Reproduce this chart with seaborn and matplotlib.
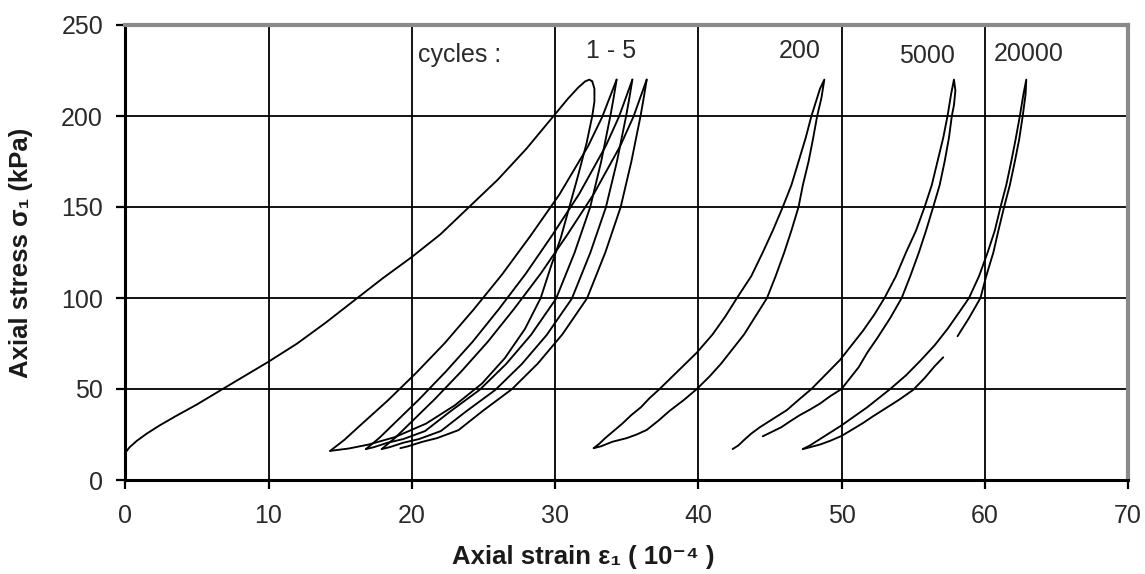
import matplotlib
matplotlib.use("Agg")
import matplotlib.pyplot as plt
import seaborn as sns
import pandas as pd

# ---------------- data (strain in 1e-4, stress in kPa) ----------------
init_x = [0, 0.3, 0.8, 1.5, 2.4, 3.5, 5.0, 6.8, 8.4, 10, 12, 14, 16.2, 18, 20, 22, 24, 26, 28, 29.9, 30.9, 31.6, 32.1, 32.4, 32.6]
init_y = [15, 18, 21.5, 25.5, 30, 35, 41.5, 50, 57.5, 65, 75, 86.5, 100, 111, 122.5, 135, 150, 165, 182, 200, 209.5, 215.5, 219, 220, 219]

unl1_x = [32.6, 32.75, 32.75, 32.6, 32.2, 31.6, 31.0, 30.4, 29.7, 29.0, 27.9, 26.5, 24.9, 23.0, 21.0, 18.8, 17.0, 15.6, 14.3]
unl1_y = [219, 215, 208, 200, 185, 167, 150, 133, 117, 100, 83, 67, 53, 41, 31, 23.5, 19.5, 17.3, 16]

rel1_x = [14.3, 15.3, 16.3, 18.3, 20.3, 22.3, 24.3, 26.3, 28.3, 30.3, 32.3, 33.3, 34.3]
rel1_y = [16, 22.1, 29.3, 43.5, 58.8, 75.2, 93.5, 112.9, 134.3, 156.8, 183.3, 199.6, 220]

unl2_x = [34.3, 34.09, 33.86, 33.22, 32.45, 31.36, 30.07, 28.32, 26.58, 24.73, 22.66, 20.93, 19.41, 18.32, 17.34, 16.8]
unl2_y = [220, 209.9, 199.9, 174.9, 149.8, 124.8, 99.6, 79.7, 63.7, 49.5, 37.5, 26.9, 22.5, 20.5, 18.0, 17]

rel2_x = [16.8, 17.73, 18.66, 20.52, 22.38, 24.24, 26.1, 27.96, 29.82, 31.68, 33.54, 34.47, 35.4]
rel2_y = [17, 23.1, 30.2, 44.4, 59.6, 75.9, 94.1, 113.4, 134.7, 157.1, 183.5, 199.7, 220]

unl3_x = [35.4, 35.19, 34.96, 34.32, 33.55, 32.46, 31.17, 29.42, 27.68, 25.83, 23.76, 22.03, 20.51, 19.42, 18.44, 17.9]
unl3_y = [220, 209.9, 199.9, 174.9, 149.8, 124.8, 99.6, 79.7, 63.7, 49.5, 37.5, 26.9, 22.5, 20.5, 18.0, 17]

rel3_x = [17.9, 18.83, 19.75, 21.6, 23.45, 25.3, 27.15, 29.0, 30.85, 32.7, 34.55, 35.48, 36.4]
rel3_y = [17, 23.1, 30.2, 44.4, 59.6, 75.9, 94.1, 113.4, 134.7, 157.1, 183.5, 199.7, 220]

unl4_x = [36.4, 36.19, 35.97, 35.33, 34.58, 33.51, 32.24, 30.52, 28.81, 26.99, 24.96, 23.26, 21.76, 20.7, 19.73, 19.2]
unl4_y = [220, 209.9, 200.0, 175.0, 149.9, 125.0, 99.9, 80.1, 64.1, 49.9, 38.0, 27.4, 23.0, 20.9, 18.5, 17.5]

c200_x = [32.7, 33.1, 33.5, 34.1, 34.7, 35.3, 36.0, 36.6, 37.3, 38.6, 39.9, 41.0, 41.9, 42.7, 43.7, 44.5, 45.2, 45.9,
          46.5, 47.0, 47.5, 47.9, 48.3, 48.5, 48.8,
          48.7, 48.6, 48.3, 48.0, 47.7, 47.3, 47.0, 46.5, 46.0, 45.4, 44.8, 44.0, 43.2, 42.4, 41.6, 40.8, 39.9,
          39.0, 38.0, 37.2, 36.4, 35.7, 35.0, 34.0, 33.2, 32.7]
c200_y = [17.5, 20, 23, 27, 31, 35.5, 40, 45, 50, 60, 70, 80, 90, 100, 112, 125, 137, 150,
          162, 175, 188, 200, 210, 215, 220,
          215, 210, 200, 187, 175, 162, 150, 137, 125, 112, 100, 90, 80, 72, 64, 57, 50,
          44, 38, 32.5, 27.5, 25, 23, 21, 18.5, 17.5]

c5000_x = [42.4, 42.8, 43.2, 43.7, 44.3, 45.2, 46.2, 47.0, 47.9, 48.9, 49.9, 50.7, 51.5, 52.3, 53.0, 53.8, 54.5,
           55.2, 55.8, 56.3, 56.7, 57.1, 57.4, 57.65, 57.85,
           57.95, 57.85, 57.7, 57.5, 57.2, 56.85, 56.4, 55.9, 55.4, 54.8, 54.2, 53.4, 52.5, 51.8, 51.2, 50.6, 50.0,
           49.2, 48.5, 47.8, 47.1, 46.4, 45.8, 45.1, 44.5]
c5000_y = [17, 19, 22, 25.5, 29, 33.5, 38.5, 44, 50, 58, 66, 74, 82, 91, 100, 112, 125,
           137, 150, 162, 175, 188, 200, 212, 220,
           214, 206, 200, 188, 175, 162, 150, 137, 125, 112, 100, 89, 78, 70, 62, 56, 50,
           46, 42, 38.7, 35.7, 32.2, 29, 26.3, 24]

c20000a_x = [47.3, 47.8, 48.5, 49.2, 50.0, 50.9, 51.8, 52.6, 53.4, 54.5, 55.5, 56.5, 57.4, 58.2, 58.9, 59.6, 60.2,
             60.7, 61.1, 61.5, 61.85, 62.15, 62.45, 62.7, 62.9,
             62.85, 62.65, 62.4, 62.1, 61.75, 61.35, 60.95, 60.6, 60.1, 59.7, 58.9, 58.1]
c20000a_y = [17, 19, 22.5, 26, 30, 35, 40, 45, 50, 57.5, 65.5, 74, 83, 92, 100, 112, 125,
             137, 150, 162, 175, 187, 200, 212, 220,
             212, 200, 187, 175, 162, 150, 137, 125, 112, 100, 89, 79]
c20000b_x = [57.1, 56.5, 55.8, 55.0, 54.0, 53.0, 52.2, 51.5, 50.7, 50.0, 49.2, 48.5, 47.8, 47.3]
c20000b_y = [67.4, 62.5, 56, 49.5, 44, 39, 35, 31.3, 27.5, 24.2, 21.5, 19.5, 18, 17]

branches = {
    "init": (init_x, init_y), "unl1": (unl1_x, unl1_y), "rel1": (rel1_x, rel1_y),
    "unl2": (unl2_x, unl2_y), "rel2": (rel2_x, rel2_y), "unl3": (unl3_x, unl3_y),
    "rel3": (rel3_x, rel3_y), "unl4": (unl4_x, unl4_y), "c200": (c200_x, c200_y),
    "c5000": (c5000_x, c5000_y), "c20000a": (c20000a_x, c20000a_y), "c20000b": (c20000b_x, c20000b_y),
}

x_ticks = [0, 10, 20, 30, 40, 50, 60, 70]
y_ticks = [0, 50, 100, 150, 200, 250]

labels = [("cycles :", 20.4, 233.5, "left"), ("1 - 5", 33.9, 235.7, "center"),
          ("200", 47.05, 235.7, "center"), ("5000", 55.95, 233, "center"), ("20000", 63.1, 234, "center")]

# ---------------- build frame ----------------
rows = []
for name, (xs, ys) in branches.items():
    for i, (xv, yv) in enumerate(zip(xs, ys)):
        rows.append({"branch": name, "order": i, "strain": xv, "stress": yv})
df = pd.DataFrame(rows)

sns.set_theme(style="white")
plt.rcParams["font.family"] = ["Liberation Sans", "DejaVu Sans"]

fig = plt.figure(figsize=(11.45, 5.74), dpi=100)
ax = fig.add_axes([125.3 / 1145, 1 - 480 / 574, (1128 - 125.3) / 1145, (480 - 25) / 574])

for name in branches:
    sub = df[df["branch"] == name]
    sns.lineplot(data=sub, x="strain", y="stress", sort=False, estimator=None,
                 color="black", linewidth=1.35, ax=ax, legend=False)

ax.set_xlim(0, 70)
ax.set_ylim(0, 250)
ax.set_xticks(x_ticks)
ax.set_yticks(y_ticks)
ax.grid(True, color="black", linewidth=1.3)
ax.set_axisbelow(True)

for side in ["left", "bottom"]:
    ax.spines[side].set_color("black")
    ax.spines[side].set_linewidth(2.2)
for side in ["top", "right"]:
    ax.spines[side].set_color("#8a8a8a")
    ax.spines[side].set_linewidth(3.0)
    ax.spines[side].set_visible(True)

ax.tick_params(axis="both", direction="out", length=6.5, width=1.6, color="black",
               labelsize=18, labelcolor="#2a2a2a", bottom=True, left=True)
ax.tick_params(axis="x", pad=10.5)
ax.tick_params(axis="y", pad=9.5)

ax.set_xlabel("Axial strain ε₁ ( 10⁻⁴ )", fontsize=18.5, fontweight="bold", color="#1a1a1a")
ax.set_ylabel("Axial stress σ₁ (kPa)", fontsize=18.5, fontweight="bold", color="#1a1a1a")
ax.xaxis.set_label_coords((583 - 125.3) / 1003, (480 - 545) / 455)
ax.yaxis.set_label_coords((33 - 125.3) / 1003, 0.5)

for txt, xv, yv, ha in labels:
    ax.text(xv, yv, txt, fontsize=18, color="#2a2a2a", ha=ha, va="center")

fig.savefig("out.png", dpi=100)
